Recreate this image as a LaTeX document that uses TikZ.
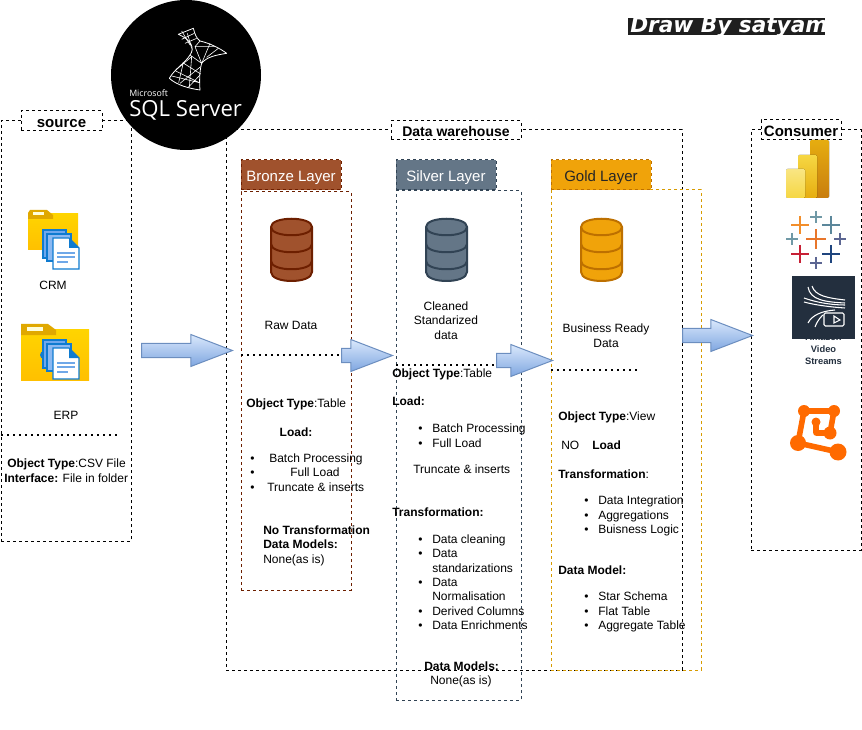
\documentclass[tikz,border=0pt]{standalone}
\usepackage{fontspec}
\setmainfont{Liberation Sans}
\newfontfamily\logofont{Open Sans}
\newfontfamily\drawfont{DejaVu Sans}
\usetikzlibrary{shapes.arrows,shapes.geometric}
\definecolor{bronzeF}{HTML}{A0522D}\definecolor{bronzeS}{HTML}{6D1F00}
\definecolor{silverF}{HTML}{647687}\definecolor{silverS}{HTML}{314354}
\definecolor{goldF}{HTML}{F0A30A}\definecolor{goldS}{HTML}{BD7000}\definecolor{goldL}{HTML}{D79B00}
\definecolor{awsdark}{HTML}{232F3E}\definecolor{docblue}{HTML}{0F7BD0}\definecolor{docfill}{HTML}{6FA8EE}\definecolor{docline}{HTML}{6FA8E8}
\definecolor{orangeicon}{HTML}{FF6A00}
\definecolor{arrowA}{HTML}{DAE8FC}\definecolor{arrowB}{HTML}{7EA6E0}\definecolor{arrowC}{HTML}{6C8EBF}
\definecolor{folderA}{HTML}{FFD400}\definecolor{folderB}{HTML}{FFC000}\definecolor{folderT}{HTML}{E0A800}
\definecolor{tabA}{HTML}{E8762B}\definecolor{tabB}{HTML}{F28E2B}\definecolor{tabC}{HTML}{7099A6}\definecolor{tabD}{HTML}{5B879B}
\definecolor{tabE}{HTML}{5C6692}\definecolor{tabF}{HTML}{C72035}\definecolor{tabG}{HTML}{1F457E}
\definecolor{pbA}{HTML}{E6AD10}\definecolor{pbB}{HTML}{C87D0E}\definecolor{pbC}{HTML}{F6D743}\definecolor{pbD}{HTML}{F9E583}
\tikzset{
 dsh/.style={draw,dash pattern=on 2.25pt off 2.25pt,line width=0.75pt},
 pane/.style={dsh,rectangle,inner sep=0pt},
 lbl/.style={pane,fill=white,font=\fontsize{11.25}{12}\selectfont\bfseries},
 layertitle/.style={pane,font=\fontsize{11.25}{12}\selectfont},
 txt/.style={inner sep=0pt,font=\fontsize{9}{11}\selectfont,text height=7pt,text depth=2pt,yshift=-0.75pt},
 tl/.style={txt,anchor=west},
 tc/.style={txt,anchor=center},
 dotline/.style={line width=1.5pt,dash pattern=on 1.5pt off 3pt},
 flow/.style={single arrow,anchor=tail,minimum height=#1,inner xsep=0pt,inner ysep=4.9pt,
   single arrow head extend=6.7pt,single arrow tip angle=42,top color=arrowA,bottom color=arrowB,draw=arrowC,line width=0.75pt},
 cross/.style={line width=2.1pt},
}
\newcommand\pbox[7]{\node[#2,minimum width={(#5-#3)*0.75pt},minimum height={(#6-#4)*0.75pt}] (#1) at ({(#3+#5)/2},{(#4+#6)/2}) {\raisebox{-4.6pt}[0pt][0pt]{#7}};}
\newcommand\cyl[3]{%
 \begin{scope}[shift={(#1,0)},line width=1.5pt,draw=#3]
 \filldraw[fill=#2] (0,227) .. controls (0,216) and (41,216) .. (41,227) -- (41,272) .. controls (41,284) and (0,284) .. (0,272) -- cycle;
 \draw (0,227) .. controls (0,238) and (41,238) .. (41,227);
 \draw (0,244) .. controls (0,255) and (41,255) .. (41,244);
 \draw (0,261) .. controls (0,272) and (41,272) .. (41,261);
 \end{scope}}
\newcommand\docs[1]{%
 \begin{scope}[shift={(0,#1)},draw=docblue,line width=0.9pt]
 \filldraw[fill=docfill] (43,230) rectangle (66,258);
 \filldraw[fill=docfill!80!white] (47,234) rectangle (71,261);
 \filldraw[fill=white] (53,238) -- (69,238) -- (79,248) -- (79,269) -- (53,269) -- cycle;
 \fill[docblue] (69,238) -- (79,248) -- (69,248) -- cycle;
 \draw[line width=1.1pt,draw=docline] (57,253) -- (75,253) (57,257) -- (75,257) (57,262) -- (68,262);
 \end{scope}}
\newcommand\plus[4]{\draw[cross,#4] (#1-#3,#2) -- (#1+#3,#2) (#1,#2-#3) -- (#1,#2+#3);}
\begin{document}
\begin{tikzpicture}[x=0.75pt,y=-0.75pt]
\useasboundingbox (0,0) rectangle (862,730);
% panes
\pbox{srcpane}{pane}{1}{121}{131}{541}{}
\pbox{dwpane}{pane}{226}{130}{682}{670}{}
\pbox{conpane}{pane}{751}{130}{861}{550}{}
\pbox{srclbl}{lbl}{21}{111}{102}{131}{source}
\pbox{dwlbl}{lbl,font=\fontsize{10.5}{12}\selectfont\bfseries}{391}{121}{521}{140}{Data warehouse}
% SQL logo
\node[circle,fill=black,inner sep=0pt,minimum size=112.5pt] (sql) at (186,75) {};
\begin{scope}[shift={(100,0)},x=0.25pt,y=-0.25pt,draw=white,line width=0.6pt,line join=round]
\draw (235,103) -- (280,85) .. controls (285,105) and (290,115) .. (300,123) .. controls (330,130) and (360,145) .. (380,160)
  .. controls (350,165) and (320,170) .. (305,190) .. controls (298,215) and (298,245) .. (300,270)
  .. controls (265,265) and (230,255) .. (208,235) .. controls (225,205) and (255,190) .. (270,165) .. controls (285,145) and (275,120) .. cycle;
\draw[line width=0.45pt] (245,118) -- (283,100) (255,130) -- (290,115) (262,100) -- (275,145) (245,93) -- (270,135)
  (285,140) -- (300,123) (285,140) -- (305,190) (285,140) -- (345,140) (330,130) -- (305,190) (355,145) -- (320,172)
  (270,165) -- (305,190) (248,188) -- (302,222) (225,212) -- (298,248) (250,188) -- (236,248) (275,170) -- (268,262)
  (302,200) -- (240,250) (300,225) -- (265,262) (225,212) -- (275,170) (215,228) -- (298,248);
\end{scope}
\node[inner sep=0pt,text=white,anchor=base west,font=\logofont\fontsize{6.6}{7}\selectfont] (ms) at (129,97) {Microsoft};
\node[inner sep=0pt,text=white,anchor=base west,font=\logofont\fontsize{16.6}{20}\selectfont] (sqltxt) at (129,117) {SQL Server};
% Draw by
\node[fill=black!88,inner sep=0pt,minimum width=147.75pt,minimum height=12.75pt] (drawbar) at (726.5,26.5) {};
\begin{scope}
\clip (628,18) rectangle (825,35);
\node[inner sep=0pt,text=white,anchor=base west,font=\drawfont\fontsize{16.2}{18}\selectfont\bfseries\itshape] (drawtxt) at (630,32.5) {Draw By satyam};
\end{scope}
% layers
\pbox{brbox}{pane,draw=bronzeS}{241}{192}{351}{590}{}
\pbox{sibox}{pane,draw=silverS}{396}{191}{521}{700}{}
\pbox{gobox}{pane,draw=goldL}{551}{190}{701}{670}{}
\pbox{brt}{layertitle,fill=bronzeF,draw=bronzeS,text=white}{241}{160}{341}{190}{Bronze Layer}
\pbox{sit}{layertitle,fill=silverF,draw=silverS,text=white}{396}{160}{496}{190}{Silver Layer}
\pbox{got}{layertitle,fill=goldF,draw=goldS,text=black!85}{551}{160}{651}{190}{Gold Layer}
\cyl{271}{bronzeF}{bronzeS}
\cyl{426}{silverF}{silverS}
\cyl{581}{goldF}{goldS}
% folders
\fill[top color=folderA,bottom color=folderB] (28,214) rectangle (78,250);
\fill[folderT] (28,213) -- (30,210) -- (47,210) -- (53,215) -- (53,219) -- (28,219) -- cycle;
\fill[white!85!yellow] (33,212) rectangle (44,215);
\docs{0}
\fill[top color=folderA,bottom color=folderB] (21,330) rectangle (89,380);
\fill[folderT] (21,324) -- (48,324) -- (56,330) -- (56,335) -- (21,335) -- cycle;
\fill[white!85!yellow] (27,327) rectangle (43,331);
\fill[docblue] (44,355) circle (4);
\docs{110}
% source text
\node[tc] (crm) at (53,285) {CRM};
\node[tc] (erp) at (66,415) {ERP};
\coordinate (d1a) at (1,435);\coordinate (d1b) at (118,435);
\draw[dotline] (d1a) -- (d1b);
\node[tl] (s1) at (7,463) {\textbf{Object Type}:CSV File};
\node[tl] (s2) at (4,478) {\textbf{Interface:} File in folder};
% bronze text
\node[tc] (raw) at (291,325) {Raw Data};
\coordinate (d2a) at (241,355);\coordinate (d2b) at (341,355);
\draw[dotline] (d2a) -- (d2b);
\node[tl] (b1) at (246,403) {\textbf{Object Type}:Table};
\node[tc] (b2) at (296,432) {\textbf{Load:}};
\node[tl] (bb1) at (250,458) {•};\node[tl] (b3) at (269,458) {Batch Processing};
\node[tl] (bb2) at (250,472) {•};\node[tl] (b4) at (290,472) {Full Load};
\node[tl] (bb3) at (250,487) {•};\node[tl] (b5) at (267,487) {Truncate \& inserts};
\node[tl] (b6) at (263,530) {\textbf{No Transformation}};
\node[tl] (b7) at (263,544) {\textbf{Data Models:}};
\node[tl] (b8) at (263,559) {None(as is)};
% silver text
\node[tc] (c1) at (446,306) {Cleaned};
\node[tc] (c2) at (446,320) {Standarized};
\node[tc] (c3) at (446,335) {data};
\coordinate (d3a) at (396,365);\coordinate (d3b) at (496,365);
\draw[dotline] (d3a) -- (d3b);
\node[tl] (si1) at (392,373) {\textbf{Object Type}:Table};
\node[tl] (si2) at (392,401) {\textbf{Load:}};
\node[tl] (sb1) at (418,428) {•};\node[tl] (si3) at (432,428) {Batch Processing};
\node[tl] (sb2) at (418,443) {•};\node[tl] (si4) at (432,443) {Full Load};
\node[tl] (si5) at (413,469) {Truncate \& inserts};
\node[tl] (si6) at (392,512) {\textbf{Transformation:}};
\node[tl] (sb3) at (418,539) {•};\node[tl] (si7) at (432,539) {Data cleaning};
\node[tl] (sb4) at (418,553) {•};\node[tl] (si8) at (432,553) {Data};
\node[tl] (si9) at (432,568) {standarizations};
\node[tl] (sb5) at (418,582) {•};\node[tl] (si10) at (432,582) {Data};
\node[tl] (si11) at (432,596) {Normalisation};
\node[tl] (sb6) at (418,611) {•};\node[tl] (si12) at (432,611) {Derived Columns};
\node[tl] (sb7) at (418,625) {•};\node[tl] (si13) at (432,625) {Data Enrichments};
\node[tl] (si14) at (424,666) {\textbf{Data Models:}};
\node[tl] (si15) at (430,680) {None(as is)};
% gold text
\node[tc] (g1) at (606,328) {Business Ready};
\node[tc] (g2) at (606,343) {Data};
\coordinate (d4a) at (551,370);\coordinate (d4b) at (640,370);
\draw[dotline] (d4a) -- (d4b);
\node[tl] (g3) at (558,416) {\textbf{Object Type}:View};
\node[tl] (g4) at (561,445) {NO};
\node[tl] (g5) at (592,445) {\textbf{Load}};
\node[tl] (g6) at (558,474) {\textbf{Transformation}:};
\node[tl] (gb1) at (584,500) {•};\node[tl] (g7) at (598,500) {Data Integration};
\node[tl] (gb2) at (584,515) {•};\node[tl] (g8) at (598,515) {Aggregations};
\node[tl] (gb3) at (584,529) {•};\node[tl] (g9) at (598,529) {Buisness Logic};
\node[tl] (g10) at (558,570) {\textbf{Data Model:}};
\node[tl] (gb4) at (584,596) {•};\node[tl] (g11) at (598,596) {Star Schema};
\node[tl] (gb5) at (584,611) {•};\node[tl] (g12) at (598,611) {Flat Table};
\node[tl] (gb6) at (584,625) {•};\node[tl] (g13) at (598,625) {Aggregate Table};
% block arrows
\node[flow=68.25pt] (a1) at (141,350.5) {};
\node[flow=38.25pt] (a2) at (341,355.5) {};
\node[flow=42pt] (a3) at (496,360.5) {};
\node[flow=52.5pt] (a4) at (682,335.5) {};
% consumer
\pbox{conlbl}{lbl}{761}{120}{841}{140}{Consumer}
% power bi
\fill[top color=pbA,bottom color=pbB,rounded corners=1pt] (810,140) rectangle (829,198);
\fill[top color=pbC,bottom color=pbA,rounded corners=1pt] (798,155) rectangle (817,198);
\fill[top color=pbD,bottom color=pbC,rounded corners=1pt] (786,169) rectangle (805,198);
% tableau
\plus{816}{239}{10}{tabA}
\plus{800}{225}{9}{tabB}
\plus{816}{217}{6}{tabC}
\plus{831}{225}{9}{tabD}
\plus{792}{239}{6}{tabC}
\plus{840}{239}{6}{tabE}
\plus{800}{254}{9}{tabF}
\plus{831}{254}{9}{tabG}
\plus{816}{263}{6}{tabE}
% video streams
\node[inner sep=0pt,anchor=base,text=awsdark,font=\fontsize{7}{8}\selectfont\bfseries] (am) at (823.5,340) {Amazon};
\node[fill=awsdark,inner sep=0pt,minimum size=47.25pt] (vid) at (823.5,307.5) {};
\begin{scope}[draw=white,line width=0.8pt]
\draw (808,287) .. controls (810,300) and (825,302) .. (845,303);
\draw (812,286) .. controls (815,296) and (828,298) .. (845,300);
\draw (804,298) .. controls (815,302) and (830,305) .. (845,305);
\draw (804,302) .. controls (815,305) and (830,307) .. (845,308);
\draw (808,323) .. controls (812,315) and (822,311) .. (835,310);
\draw (815,327) .. controls (818,319) and (822,316) .. (823,315);
\draw[rounded corners=1pt] (824,313) rectangle (844,326);
\draw (834,316) -- (840,320) -- (834,323) -- cycle;
\end{scope}
\node[inner sep=0pt,anchor=center,text=awsdark,font=\fontsize{7}{8}\selectfont\bfseries] (v1) at (823.5,349) {Video};
\node[inner sep=0pt,anchor=center,text=awsdark,font=\fontsize{7}{8}\selectfont\bfseries] (v2) at (823.5,361) {Streams};
% orange icon
\draw[orangeicon,line width=4.2pt,line join=round] (804,411) -- (834,411) -- (830,433) -- (816,433) -- (816,422);
\draw[orangeicon,line width=4.2pt,line join=round] (804,411) -- (798,443) -- (838,452);
\fill[orangeicon] (804,411) circle (6) (834,411) circle (6) (816,422) circle (4.5) (830,433) circle (6.5) (798,443) circle (8) (838,452) circle (8.5);
\end{tikzpicture}
\end{document}
